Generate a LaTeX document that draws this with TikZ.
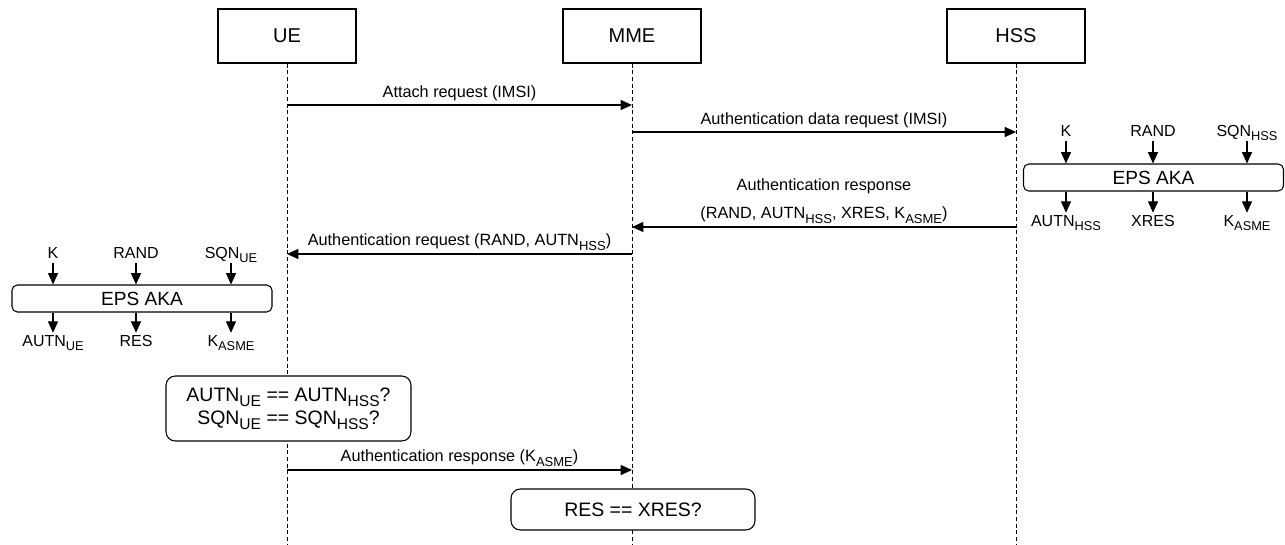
\documentclass[tikz,border=0pt]{standalone}
\usepackage{fontspec}
\setmainfont{Liberation Sans}
\usetikzlibrary{arrows.meta}
\newcommand{\lowtxt}[1]{\raisebox{-0.5ex}{\scalebox{0.8}{#1}}}

\begin{document}
\begin{tikzpicture}[x=0.75pt,y=-0.75pt,>={Triangle[length=8.5pt,width=7.5pt]},line width=0.8pt,
	actor/.style={draw,fill=white,minimum width=103.5pt,minimum height=40.5pt,font=\fontsize{15}{18}\selectfont},
	life/.style={line width=0.6pt,dash pattern=on 3pt off 2pt},
	msg/.style={->},
	lbl/.style={font=\fontsize{12.2}{14}\selectfont,inner sep=2.5pt},
	aka/.style={draw,rounded corners=4pt,minimum width=195pt,minimum height=20.25pt,inner sep=0pt,font=\fontsize{14.3}{17}\selectfont},
	io/.style={font=\fontsize{12}{14}\selectfont,inner sep=1pt,text height=8.6pt,text depth=2.5pt},
	check/.style={draw,fill=white,rounded corners=7pt,align=center,font=\fontsize{14.6}{17.3}\selectfont}]
	\useasboundingbox (0,0) rectangle (1285,544);
	
	%entities
	\node[actor] (ue) at (287,36) {UE};
	\node[actor] (mme) at (632,36) {MME};
	\node[actor] (hss) at (1016,36) {HSS};
	\foreach \n in {ue,mme,hss}
	\draw[life] (\n.south) -- (\n.south |- 0,544);
	
	%messages
	\draw[msg] (ue.south |- 0,105) -- node[lbl,above] {Attach request (IMSI)} (mme.south |- 0,105);
	\draw[msg] (mme.south |- 0,132) -- node[lbl,above] {Authentication data request (IMSI)} (hss.south |- 0,132);
	\draw[msg] (hss.south |- 0,227) -- node[lbl,above,align=center,font=\fontsize{12.2}{21}\selectfont] {Authentication response\\(RAND, AUTN\lowtxt{HSS}, XRES, K\lowtxt{ASME})} (mme.south |- 0,227);
	\draw[msg] (mme.south |- 0,254) -- node[lbl,above] {Authentication request (RAND, AUTN\lowtxt{HSS})} (ue.south |- 0,254);
	\draw[msg] (ue.south |- 0,470) -- node[lbl,above] {Authentication response (K\lowtxt{ASME})} (mme.south |- 0,470);
	
	%EPS AKA at HSS
	\node[aka] (haka) at (1153.5,177.5) {EPS AKA};
	\foreach \x/\n/\t in {1066/k/K,1153/rand/RAND,1247/sqn/SQN\lowtxt{HSS}}
	{
	\node[io] (hi\n) at (\x,132) {\t};
	\draw[->] (hi\n) -- (hi\n |- haka.north);
	}
	\foreach \x/\n/\t in {1066/autn/AUTN\lowtxt{HSS},1153/xres/XRES,1247/kasme/K\lowtxt{ASME}}
	{
	\node[io] (ho\n) at (\x,222) {\t};
	\draw[->] (ho\n |- haka.south) -- (ho\n);
	}
	
	%EPS AKA at UE
	\node[aka] (uaka) at (142,298.5) {EPS AKA};
	\foreach \x/\n/\t in {53/k/K,136/rand/RAND,231/sqn/SQN\lowtxt{UE}}
	{
	\node[io] (ui\n) at (\x,254) {\t};
	\draw[->] (ui\n) -- (ui\n |- uaka.north);
	}
	\foreach \x/\n/\t in {53/autn/AUTN\lowtxt{UE},136/res/RES,231/kasme/K\lowtxt{ASME}}
	{
	\node[io] (uo\n) at (\x,342) {\t};
	\draw[->] (uo\n |- uaka.south) -- (uo\n);
	}
	
	%checks
	\node[check,minimum width=183.75pt,minimum height=48.75pt] (chk) at (288.5,408.5) {AUTN\lowtxt{UE} == AUTN\lowtxt{HSS}?\\SQN\lowtxt{UE} == SQN\lowtxt{HSS}?};
	\node[check,minimum width=183pt,minimum height=30.75pt] (cmp) at (633,509.5) {RES == XRES?};
\end{tikzpicture}
\end{document}
